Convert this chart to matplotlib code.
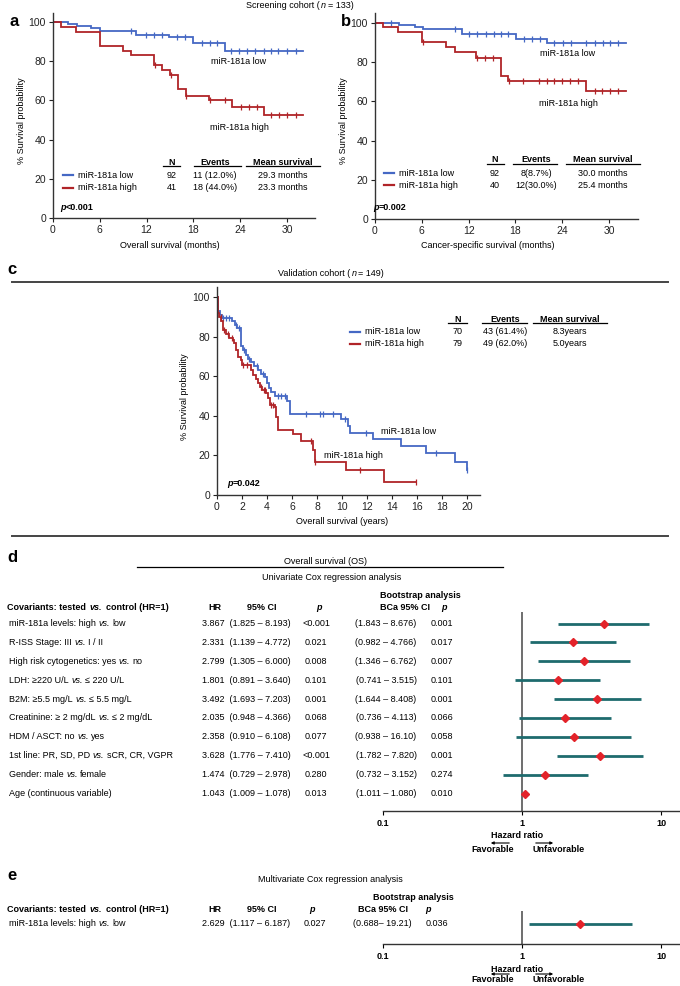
import numpy as np
import matplotlib
matplotlib.use('Agg')
import matplotlib.pyplot as plt
from matplotlib.lines import Line2D
from matplotlib.patches import FancyArrowPatch

plt.rcParams['font.family'] = ['Liberation Sans', 'DejaVu Sans']

# ---------------- data ----------------
# Panel a: overall survival, screening cohort (months)
a_low_t = [0, 1.9, 3.1, 4.9, 6.0, 10.7, 14.9, 18.0, 22.1]
a_low_s = [100, 99.2, 97.8, 96.7, 95.6, 93.4, 92.2, 89.2, 85.3]
a_low_cens = [10.0, 11.9, 13.0, 14.0, 15.9, 16.9, 19.1, 20.1, 21.0, 22.8, 23.9, 24.9,
              25.9, 27.0, 27.9, 28.9, 30.0, 31.1]
a_low_end = 32.1
a_high_t = [0, 1.0, 3.0, 6.0, 9.0, 10.0, 13.0, 14.0, 15.0, 16.0, 17.0, 20.0, 23.0, 27.0]
a_high_s = [100, 97.6, 95.1, 87.8, 85.4, 83.0, 78.0, 75.6, 73.2, 65.8, 62.5, 60.0, 56.8, 52.4]
a_high_cens = [13.1, 15.1, 17.1, 20.1, 22.1, 24.1, 25.1, 26.1, 28.0, 29.0, 30.0, 31.1]
a_high_end = 32.1

# Panel b: cancer-specific survival (months)
b_low_t = [0, 3.1, 5.1, 6.1, 11.1, 18.1, 22.1]
b_low_s = [100, 99.0, 98.0, 96.8, 94.4, 91.5, 89.5]
b_low_cens = [2.1, 10.2, 12.1, 13.1, 14.2, 15.2, 16.1, 17.1, 19.1, 20.1, 21.1, 23.0, 24.1,
              25.1, 27.1, 28.2, 29.2, 30.1, 31.1]
b_low_end = 32.2
b_high_t = [0, 1.0, 3.0, 6.0, 9.1, 10.2, 13.0, 16.1, 17.1, 27.1]
b_high_s = [100, 97.8, 95.1, 90.0, 87.6, 84.9, 82.2, 73.1, 70.5, 65.3]
b_high_cens = [6.1, 13.1, 14.1, 15.1, 17.2, 19.0, 21.0, 22.0, 23.0, 24.0, 25.0, 26.0,
               28.2, 29.1, 30.1, 31.1]
b_high_end = 32.2

# Panel c: validation cohort (years)
c_low_t = [0, 0.05, 0.12, 0.25, 0.4, 1.2, 1.45, 1.6, 1.9, 2.1, 2.3, 2.5, 2.75, 3.0, 3.3,
           3.55, 3.8, 4.0, 4.15, 4.35, 4.6, 5.6, 5.85, 9.95, 10.5, 10.65, 12.5, 14.75,
           16.75, 19.0, 20.0]
c_low_s = [100, 96, 93, 91, 89.5, 88, 86, 84.2, 75.1, 73.1, 70.6, 68.5, 67.2, 65, 63,
           61, 59.7, 56.3, 53.8, 52, 49.9, 47.6, 40.7, 38.2, 35, 31.4, 28.1, 24.7,
           21.3, 16.8, 12.6]
c_low_cens = [0.5, 0.75, 1.0, 1.55, 1.75, 2.2, 2.6, 3.2, 3.7, 4.9, 5.1, 5.4, 7.15, 8.2,
              8.5, 9.3, 10.2, 11.9, 17.5, 20.0]
c_low_end = 20.0
c_high_t = [0, 0.05, 0.1, 0.2, 0.35, 0.5, 0.75, 1.0, 1.3, 1.4, 1.55, 1.7, 1.95, 2.0,
            2.75, 2.9, 3.1, 3.3, 3.4, 3.6, 3.95, 4.1, 4.2, 4.6, 4.7, 4.9, 6.1, 6.75,
            7.7, 7.8, 10.35, 13.35]
c_high_s = [100, 95, 92, 90, 88, 83.2, 81.5, 79.3, 78, 76.5, 73, 69.7, 68, 65.5, 63,
            60.5, 58.8, 56.3, 54.6, 52.9, 51.3, 49, 45.4, 44.5, 39.5, 33, 30.6, 27.2,
            22.7, 16.8, 12.6, 6.7]
c_high_cens = [0.3, 0.6, 0.9, 1.2, 2.1, 2.4, 3.5, 3.75, 3.85, 4.3, 4.45, 7.55, 7.85,
               11.4, 15.9]
c_high_end = 15.9

groups = ['miR-181a low', 'miR-181a high']
a_N = ['92', '41']; a_events = ['11 (12.0%)', '18 (44.0%)']; a_mean = ['29.3 months', '23.3 months']
b_N = ['92', '40']; b_events = ['8(8.7%)', '12(30.0%)']; b_mean = ['30.0 months', '25.4 months']
c_N = ['70', '79']; c_events = ['43 (61.4%)', '49 (62.0%)']; c_mean = ['8.3years', '5.0years']

# Panel d: univariate Cox
covariates = ['miR-181a levels: high vs. low', 'R-ISS Stage: III vs. I / II',
              'High risk cytogenetics: yes vs. no', 'LDH: \u2265220 U/L vs. \u2264 220 U/L',
              'B2M: \u22655.5 mg/L vs. \u2264 5.5 mg/L',
              'Creatinine: \u2265 2 mg/dL vs. \u2264 2 mg/dL', 'HDM / ASCT: no vs. yes',
              '1st line: PR, SD, PD vs. sCR, CR, VGPR', 'Gender: male vs. female',
              'Age (continuous variable)']
hr = [3.867, 2.331, 2.799, 1.801, 3.492, 2.035, 2.358, 3.628, 1.474, 1.043]
ci_lo = [1.825, 1.139, 1.305, 0.891, 1.693, 0.948, 0.910, 1.776, 0.729, 1.009]
ci_hi = [8.193, 4.772, 6.000, 3.640, 7.203, 4.366, 6.108, 7.410, 2.978, 1.078]
p_vals = ['<0.001', '0.021', '0.008', '0.101', '0.001', '0.068', '0.077', '<0.001', '0.280', '0.013']
bca_ci = ['(1.843 \u2013 8.676)', '(0.982 \u2013 4.766)', '(1.346 \u2013 6.762)',
          '(0.741 \u2013 3.515)', '(1.644 \u2013 8.408)', '(0.736 \u2013 4.113)',
          '(0.938 \u2013 16.10)', '(1.782 \u2013 7.820)', '(0.732 \u2013 3.152)',
          '(1.011 \u2013 1.080)']
boot_p = ['0.001', '0.017', '0.007', '0.101', '0.001', '0.066', '0.058', '0.001', '0.274', '0.010']

# Panel e: multivariate Cox
mv_cov = ['miR-181a levels: high vs. low']
mv_hr = [2.629]; mv_lo = [1.117]; mv_hi = [6.187]
mv_p = ['0.027']; mv_bca = ['(0.688\u2013 19.21)']; mv_boot_p = ['0.036']

# ---------------- helpers ----------------
W, H = 680, 986
fig = plt.figure(figsize=(6.8, 9.86), dpi=100)
R = fig.canvas.get_renderer()

BLUE = '#4568c4'
RED = '#b02428'
TEAL = '#1e6b6e'
DIAM = '#e3232a'


def box(x0, y0, x1, y1):
    return [x0 / W, 1 - y1 / H, (x1 - x0) / W, (y1 - y0) / H]


def T(x, y, s, **kw):
    kw.setdefault('fontsize', 6.5)
    kw.setdefault('va', 'center')
    return fig.text(x / W, 1 - y / H, s, **kw)


def L(x0, x1, y0, y1, **kw):
    kw.setdefault('color', 'k')
    kw.setdefault('lw', 0.8)
    fig.add_artist(Line2D([x0 / W, x1 / W], [1 - y0 / H, 1 - y1 / H], **kw))


def rich(x, y, parts, gap=2.6, **kw):
    cx = x
    for s, st in parts:
        t = T(cx, y, s, **{**kw, **st})
        cx += t.get_window_extent(R).width + gap


def cov_label(x, y, s, **kw):
    if ' vs. ' in s:
        pre, post = s.split(' vs. ')
        rich(x, y, [(pre, {}), ('vs.', {'style': 'italic'}), (post, {})], **kw)
    else:
        T(x, y, s, **kw)


def km(ax, t, s, cens, end, color):
    ax.step(list(t) + [end], list(s) + [s[-1]], where='post', color=color, lw=1.3,
            solid_joinstyle='miter')
    ta = np.array(t); sa = np.array(s)
    cy = [sa[np.searchsorted(ta, c, side='right') - 1] for c in cens]
    ax.plot(cens, cy, ls='none', marker='|', ms=5, mew=0.9, color=color)


def km_axes(bx, xmax, ymax, xticks):
    ax = fig.add_axes(box(*bx))
    ax.set_xlim(0, xmax); ax.set_ylim(0, ymax)
    for sp in ['top', 'right']:
        ax.spines[sp].set_visible(False)
    for sp in ['left', 'bottom']:
        ax.spines[sp].set_linewidth(1.0); ax.spines[sp].set_color('#333')
    ax.set_xticks(xticks); ax.set_yticks(range(0, 101, 20))
    ax.tick_params(length=3, width=0.8, labelsize=7.5, pad=2, colors='#222')
    ax.patch.set_alpha(0)
    return ax


def legend_table(lx, hy, cols, under, rows_y, vals):
    for i, g in enumerate(groups):
        L(lx, lx + 10, rows_y[i], rows_y[i], color=[BLUE, RED][i], lw=1.6)
        T(lx + 15, rows_y[i], g)
    for (name, cx), (u0, u1) in zip(zip(['N', 'Events', 'Mean survival'], cols), under):
        T(cx, hy, name, ha='center', fontweight='bold')
        L(u0, u1, hy + 4, hy + 4, lw=0.9)
    for j, col in enumerate(vals):
        for i in range(2):
            T(cols[j], rows_y[i], col[i], ha='center')


def pval(x, y, s):
    T(x, y, 'p', style='italic', fontweight='bold')
    T(x + 5.2, y, s, fontweight='bold')

# ---------------- panel a ----------------
rich(246, 5, [('Screening cohort (', {}), ('n', {'style': 'italic'}), ('= 133)', {})], gap=1.5)
T(9, 21, 'a', fontsize=12, fontweight='bold')
axa = km_axes((53, 13, 315, 218), 33.6, 104.6, range(0, 31, 6))
km(axa, a_low_t, a_low_s, a_low_cens, a_low_end, BLUE)
km(axa, a_high_t, a_high_s, a_high_cens, a_high_end, RED)
T(22, 121, '% Survival probability', rotation=90, ha='center')
T(170, 245, 'Overall survival (months)', ha='center')
T(239, 62, groups[0], ha='center')
T(239, 128, groups[1], ha='center')
legend_table(63, 162, [172, 215, 283], [(163, 180), (194, 241), (246, 320)],
             [175, 188], [a_N, a_events, a_mean])
pval(60, 208, '<0.001')

# ---------------- panel b ----------------
T(341, 21, 'b', fontsize=12, fontweight='bold')
axb = km_axes((375, 13, 638, 219), 33.7, 105, range(0, 31, 6))
km(axb, b_low_t, b_low_s, b_low_cens, b_low_end, BLUE)
km(axb, b_high_t, b_high_s, b_high_cens, b_high_end, RED)
T(344, 121, '% Survival probability', rotation=90, ha='center')
T(488, 246, 'Cancer-specific survival (months)', ha='center')
T(568, 54, groups[0], ha='center')
T(568, 103, groups[1], ha='center')
legend_table(384, 160, [495, 536, 603], [(487, 504), (513, 557), (566, 640)],
             [173, 185], [b_N, b_events, b_mean])
pval(373, 208, '=0.002')

# ---------------- panel c ----------------
T(7, 270, 'c', fontsize=12, fontweight='bold')
rich(278, 274, [('Validation cohort (', {}), ('n', {'style': 'italic'}), ('= 149)', {})], gap=1.5)
L(12, 668, 282, 282, lw=1.4, color='#444')
L(12, 668, 536, 536, lw=1.4, color='#444')
axc = km_axes((217, 287, 480, 495), 21.04, 105, range(0, 21, 2))
km(axc, c_low_t, c_low_s, c_low_cens, c_low_end, BLUE)
km(axc, c_high_t, c_high_s, c_high_cens, c_high_end, RED)
T(185, 397, '% Survival probability', rotation=90, ha='center')
T(342, 521, 'Overall survival (years)', ha='center')
T(409, 432, groups[0], ha='center')
T(353, 456, groups[1], ha='center')
legend_table(350, 319, [458, 505, 570], [(448, 467), (482, 527), (533, 607)],
             [332, 344], [c_N, c_events, c_mean])
pval(227, 484, '=0.042')

# ---------------- panel d ----------------
T(7, 557, 'd', fontsize=12, fontweight='bold')
T(325, 562, 'Overall survival (OS)', ha='center')
L(137, 503, 567, 567, lw=0.9)
T(332, 578, 'Univariate Cox regression analysis', ha='center')


def table_header(y_hdr, y_boot, x_p, x_bca, x_bp, x_boot):
    rich(7, y_hdr, [('Covariants: tested', {'fontweight': 'bold'}),
                    ('vs.', {'fontweight': 'bold', 'style': 'italic'}),
                    ('control (HR=1)', {'fontweight': 'bold'})], gap=4)
    T(215, y_hdr, 'HR', ha='center', fontweight='bold')
    T(262, y_hdr, '95% CI', ha='center', fontweight='bold')
    T(x_p, y_hdr, 'p', ha='center', fontweight='bold', style='italic')
    T(x_boot, y_boot, 'Bootstrap analysis', ha='center', fontweight='bold')
    T(x_bca, y_hdr, 'BCa 95% CI', ha='center', fontweight='bold')
    T(x_bp, y_hdr, 'p', ha='center', fontweight='bold', style='italic')


table_header(608, 595, 319, 405, 444, 420)
row_y0, row_dy = 623.5, 18.9
for i, c in enumerate(covariates):
    y = row_y0 + i * row_dy
    cov_label(9, y, c)
    T(202, y, f'{hr[i]:.3f}  ({ci_lo[i]:.3f} \u2013 {ci_hi[i]:.3f})')
    T(316, y, p_vals[i], ha='center')
    T(386, y, bca_ci[i], ha='center')
    T(442, y, boot_p[i], ha='center')

DEC = 139.0
xmax_log = 0.1 * 10 ** ((680 - 383) / DEC)


def forest_axes(bx):
    ax = fig.add_axes(box(*bx))
    ax.set_xscale('log')
    ax.set_xlim(0.1, xmax_log)
    for sp in ['top', 'right', 'left']:
        ax.spines[sp].set_visible(False)
    ax.spines['bottom'].set_linewidth(1.0); ax.spines['bottom'].set_color('#333')
    ax.set_yticks([])
    ax.set_xticks([0.1, 1, 10]); ax.set_xticklabels(['0.1', '1', '10'])
    ax.minorticks_off()
    ax.tick_params(axis='x', length=3, width=0.8, pad=2.5, labelsize=6.5)
    for lab in ax.get_xticklabels():
        lab.set_fontweight('bold')
    ax.axvline(1, color='#555', lw=1.2, zorder=1)
    ax.patch.set_alpha(0)
    return ax


axd = forest_axes((383, 612, 680, 811))
n = len(covariates)
axd.set_ylim((811 - row_y0) / row_dy, -(row_y0 - 612) / row_dy)
for i in range(n):
    axd.plot([ci_lo[i], ci_hi[i]], [i, i], color=TEAL, lw=2, solid_capstyle='butt', zorder=2)
    axd.plot(hr[i], i, marker='D', ms=4.3, color=DIAM, mec=DIAM, zorder=3)


def hr_caption(yh, ya, yf):
    T(517, yh, 'Hazard ratio', ha='center', fontweight='bold')
    for a, b in [(512, 488), (533, 556)]:
        fig.add_artist(FancyArrowPatch((a / W, 1 - ya / H), (b / W, 1 - ya / H),
                                       transform=fig.transFigure, arrowstyle='-|>',
                                       mutation_scale=4, lw=0.8, color='k'))
    T(493, yf, 'Favorable', ha='center', fontweight='bold')
    T(559, yf, 'Unfavorable', ha='center', fontweight='bold')


hr_caption(835, 843, 850)

# ---------------- panel e ----------------
T(7, 875, 'e', fontsize=12, fontweight='bold')
T(330, 880, 'Multivariate Cox regression analysis', ha='center')
table_header(910, 898, 312, 383, 428, 413)
for i, c in enumerate(mv_cov):
    y = 924
    cov_label(9, y, c)
    T(202, y, f'{mv_hr[i]:.3f}  ({mv_lo[i]:.3f} \u2013 {mv_hi[i]:.3f})')
    T(315, y, mv_p[i], ha='center')
    T(382, y, mv_bca[i], ha='center')
    T(437, y, mv_boot_p[i], ha='center')

axe = forest_axes((383, 911, 680, 944))
axe.set_ylim((944 - 924) / 20, -(924 - 911) / 20)
for i in range(len(mv_hr)):
    axe.plot([mv_lo[i], mv_hi[i]], [i, i], color=TEAL, lw=2, solid_capstyle='butt', zorder=2)
    axe.plot(mv_hr[i], i, marker='D', ms=4.3, color=DIAM, mec=DIAM, zorder=3)
hr_caption(969, 974, 979)

fig.savefig('out.png', dpi=100)
